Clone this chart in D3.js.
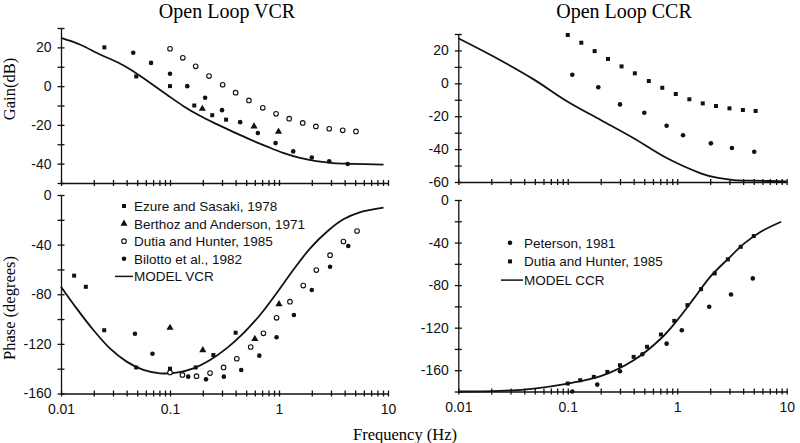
<!DOCTYPE html>
<html>
<head>
<meta charset="utf-8">
<script src="https://cdn.jsdelivr.net/npm/d3@7"></script>
<style>
  body { margin: 0; background: #fff; }
  svg { display: block; }
  .tick text { font-family: Arial, "Liberation Sans", sans-serif; font-size: 14px; fill: #111; }
  .tick line, .domain { stroke: #111; stroke-width: 1.3; }
</style>
</head>
<body>
<svg width="800" height="443"></svg>
<script>
const svg_width = 800;
const svg_height = 443;

// ---- VCR gain (dB) ----
const ezureGainF = [0.025, 0.049, 0.1, 0.167, 0.244, 0.327];
const ezureGain = [20, 5, 0, -10, -15, -17.3];
const berthozGainF = [0.198, 0.59, 0.99];
const berthozGain = [-11.7, -20.8, -23.5];
const dutiaVcrGainF = [0.1, 0.131, 0.172, 0.228, 0.304, 0.4, 0.53, 0.71, 0.94, 1.24, 1.65, 2.18, 2.89, 3.84, 5.08];
const dutiaVcrGain = [19.3, 14.6, 10.2, 5.2, 0.7, -3.4, -7.4, -11.2, -14.3, -16.8, -19, -20.8, -22, -22.8, -23.4];
const bilottoGainF = [0.046, 0.067, 0.1, 0.144, 0.21, 0.3, 0.44, 0.64, 0.93, 1.35, 2.0, 2.89, 4.27];
const bilottoGain = [17.2, 12, 6.4, 0, -6, -12.4, -18.6, -24.2, -29.4, -33.7, -36.8, -38.8, -40.2];
const modelVcrGainF = [0.01, 0.0149, 0.0228, 0.033, 0.046, 0.0655, 0.093, 0.132, 0.188, 0.268, 0.38, 0.54, 0.77, 1.09, 1.56, 2.2, 3.14, 4.5, 9.1];
const modelVcrGain = [24.9, 21.5, 16.3, 12.3, 7.7, 1.7, -4.3, -10.2, -15.3, -19.6, -23.6, -27.5, -31.1, -34.4, -37, -38.7, -39.7, -40.1, -40.5];

// ---- VCR phase (degrees) ----
const ezurePhaseF = [0.0132, 0.0169, 0.0249, 0.049, 0.1, 0.172, 0.25, 0.4];
const ezurePhase = [-65, -74, -109, -139, -140, -139, -129, -111];
const berthozPhaseF = [0.1, 0.2, 0.6, 1.0];
const berthozPhase = [-107, -125, -116, -88];
const dutiaVcrPhaseF = [0.1, 0.13, 0.175, 0.233, 0.31, 0.41, 0.55, 0.72, 0.95, 1.26, 1.67, 2.2, 2.94, 3.9, 5.2];
const dutiaVcrPhase = [-143, -145, -146, -143.5, -139, -132, -122.5, -111.5, -99, -86, -73, -60.5, -48.5, -37.5, -29];
const bilottoPhaseF = [0.0477, 0.069, 0.147, 0.214, 0.312, 0.45, 0.66, 0.95, 1.37, 2.0, 2.94, 4.32];
const bilottoPhase = [-111.8, -128, -146.4, -148.6, -146.4, -141, -129.5, -114.7, -96.7, -76.6, -57.8, -41.1];
const modelVcrPhaseF = [0.01, 0.0139, 0.0198, 0.0281, 0.04, 0.057, 0.081, 0.115, 0.164, 0.233, 0.33, 0.47, 0.67, 0.95, 1.35, 1.93, 2.75, 3.9, 5.5, 9.1];
const modelVcrPhase = [-73.9, -91.4, -108.8, -123.6, -134.3, -141, -143.7, -143.2, -139.7, -133, -123.6, -111.5, -96.7, -79.2, -60.5, -43, -29.6, -19.6, -14, -10.2];

// ---- CCR gain (dB) ----
const dutiaCcrGainF = [0.1, 0.133, 0.176, 0.233, 0.31, 0.41, 0.55, 0.73, 0.97, 1.29, 1.71, 2.26, 3.0, 3.98, 5.2];
const dutiaCcrGain = [29.4, 24.7, 19.6, 14.8, 10.3, 6.1, 1.4, -2.7, -6.5, -9.7, -12.2, -13.8, -15.2, -16.2, -16.8];
const petersonGainF = [0.11, 0.19, 0.3, 0.5, 0.8, 1.13, 2.03, 3.16, 5.05];
const petersonGain = [5.2, -2.4, -12.8, -17.9, -25.8, -31.6, -36.5, -39.3, -41.6];
const modelCcrGainF = [0.01, 0.024, 0.0488, 0.1, 0.2, 0.4, 0.81, 1.64, 2.3, 3.3, 5.1, 10];
const modelCcrGain = [27.4, 14.2, 2.4, -11.2, -22.3, -33.4, -45.6, -54.7, -57.4, -58.8, -59.2, -59.6];

// ---- CCR phase (degrees) ----
const dutiaCcrPhaseF = [0.1, 0.13, 0.173, 0.23, 0.3, 0.4, 0.53, 0.71, 0.94, 1.24, 1.65, 2.2, 2.9, 3.8, 5.0];
const dutiaCcrPhase = [-172.5, -169.4, -166.3, -161.6, -155.3, -147.5, -138, -126.4, -113.6, -98.8, -83.8, -69, -55.8, -44, -33.9];
const petersonPhaseF = [0.11, 0.186, 0.3, 0.48, 0.8, 1.1, 1.96, 3.1, 4.9];
const petersonPhase = [-180, -173.5, -161, -145, -135, -122.4, -100.4, -88.8, -73.7];
const modelCcrPhaseF = [0.01, 0.024, 0.049, 0.1, 0.2, 0.4, 0.71, 1.0, 1.42, 2.0, 2.9, 4.1, 5.8, 8.9];
const modelCcrPhase = [-180, -179.5, -177.2, -172.5, -165.6, -150.6, -130.2, -113, -92.5, -72.2, -55.5, -40.8, -29.8, -20.4];

// tick labels
const freqLabels = [0.01, 0.1, 1, 10];
const vcrGainLabels = [20, 0, -20, -40];
const ccrGainLabels = [20, 0, -20, -40, -60];
const phaseLabels = [0, -40, -80, -120, -160];

const vcrLegend = ["Ezure and Sasaki, 1978", "Berthoz and Anderson, 1971", "Dutia and Hunter, 1985", "Bilotto et al., 1982", "MODEL VCR"];
const ccrLegend = ["Peterson, 1981", "Dutia and Hunter, 1985", "MODEL CCR"];

const svg = d3.select("svg");

function zip(f, v) {
  return f.map((d, i) => [d, v[i]]);
}

// every 1..9 x decade between 0.01 and 10
function logTicks() {
  var t = [];
  for (let e = -2; e <= 0; e++) {
    for (let m = 1; m <= 9; m++) t.push(+(m * Math.pow(10, e)).toPrecision(3));
  }
  t.push(10);
  return t;
}

function drawMarker(g, type, x, y) {
  if (type === "square") {
    g.append("rect").attr("x", x - 2).attr("y", y - 2).attr("width", 4).attr("height", 4).attr("fill", "#111");
  } else if (type === "triangle") {
    g.append("path").attr("d", d3.symbol(d3.symbolTriangle, 22)()).attr("transform", `translate(${x},${y})`).attr("fill", "#111");
  } else if (type === "open") {
    g.append("circle").attr("cx", x).attr("cy", y).attr("r", 2.3).attr("fill", "#fff").attr("stroke", "#111").attr("stroke-width", 1.1);
  } else {
    g.append("circle").attr("cx", x).attr("cy", y).attr("r", 2.3).attr("fill", "#111");
  }
}

function drawPanel(p) {
  var x = d3.scaleLog().domain([0.01, 10]).range(p.xRange);
  var y = d3.scaleLinear().domain(p.yDomain).range(p.yRange);
  var g = svg.append("g");

  var yAxis = d3.axisLeft(y)
    .tickValues(d3.range(p.yDomain[0], p.yDomain[1] + 1, p.yStep))
    .tickFormat(d => (p.yLabels.includes(d) ? d : ""))
    .tickSizeInner(3.5).tickSizeOuter(0).tickPadding(6);
  var ya = g.append("g").attr("transform", `translate(${p.xRange[0]},0)`).call(yAxis);
  ya.selectAll(".tick line").attr("x1", 3.5);

  var xAxis = d3.axisBottom(x)
    .tickValues(logTicks())
    .tickFormat(d => (p.xLabels && freqLabels.includes(d) ? d : ""))
    .tickSizeInner(3).tickSizeOuter(0).tickPadding(8);
  var xa = g.append("g").attr("transform", `translate(0,${p.yRange[0]})`).call(xAxis);
  xa.selectAll(".tick line").attr("y1", -3);

  var line = d3.line().x(d => x(d[0])).y(d => y(d[1])).curve(d3.curveCatmullRom.alpha(0.5));
  g.append("path")
    .attr("d", line(p.model))
    .attr("fill", "none")
    .attr("stroke", "#111")
    .attr("stroke-width", 1.8);

  p.series.forEach(s => {
    s.pts.forEach(d => drawMarker(g, s.type, x(d[0]), y(d[1])));
  });
}

const leftX = [61, 388];
const rightX = [458.3, 786.7];

drawPanel({
  xRange: leftX, yDomain: [-50, 30], yRange: [183, 28], yStep: 10, yLabels: vcrGainLabels, xLabels: false,
  model: zip(modelVcrGainF, modelVcrGain),
  series: [
    { type: "square", pts: zip(ezureGainF, ezureGain) },
    { type: "triangle", pts: zip(berthozGainF, berthozGain) },
    { type: "open", pts: zip(dutiaVcrGainF, dutiaVcrGain) },
    { type: "dot", pts: zip(bilottoGainF, bilottoGain) }
  ]
});

drawPanel({
  xRange: leftX, yDomain: [-160, 0], yRange: [393.5, 195], yStep: 20, yLabels: phaseLabels, xLabels: true,
  model: zip(modelVcrPhaseF, modelVcrPhase),
  series: [
    { type: "square", pts: zip(ezurePhaseF, ezurePhase) },
    { type: "triangle", pts: zip(berthozPhaseF, berthozPhase) },
    { type: "open", pts: zip(dutiaVcrPhaseF, dutiaVcrPhase) },
    { type: "dot", pts: zip(bilottoPhaseF, bilottoPhase) }
  ]
});

drawPanel({
  xRange: rightX, yDomain: [-60, 30], yRange: [182, 34], yStep: 10, yLabels: ccrGainLabels, xLabels: false,
  model: zip(modelCcrGainF, modelCcrGain),
  series: [
    { type: "square", pts: zip(dutiaCcrGainF, dutiaCcrGain) },
    { type: "dot", pts: zip(petersonGainF, petersonGain) }
  ]
});

drawPanel({
  xRange: rightX, yDomain: [-180, 0], yRange: [391.5, 200], yStep: 20, yLabels: phaseLabels, xLabels: true,
  model: zip(modelCcrPhaseF, modelCcrPhase),
  series: [
    { type: "square", pts: zip(dutiaCcrPhaseF, dutiaCcrPhase) },
    { type: "dot", pts: zip(petersonPhaseF, petersonPhase) }
  ]
});

// legends
function drawLegend(labels, types, mx, tx, y0, dy) {
  var g = svg.append("g");
  labels.forEach((label, i) => {
    var yy = y0 + i * dy;
    if (types[i] === "line") {
      g.append("line").attr("x1", mx - 9).attr("x2", tx).attr("y1", yy).attr("y2", yy)
        .attr("stroke", "#111").attr("stroke-width", 1.5);
    } else {
      drawMarker(g, types[i], mx, yy);
    }
    g.append("text").attr("x", tx + 1).attr("y", yy + 5)
      .attr("font-family", "Arial, 'Liberation Sans', sans-serif").attr("font-size", 13.5).attr("fill", "#111")
      .text(label);
  });
}
drawLegend(vcrLegend, ["square", "triangle", "open", "dot", "line"], 124, 133, 206, 17.6);
drawLegend(ccrLegend, ["dot", "square", "line"], 510, 523, 242.7, 18.7);

// titles and axis labels
const serif = "'Liberation Serif', 'Times New Roman', serif";
svg.append("text").attr("x", 227).attr("y", 18).attr("text-anchor", "middle")
  .attr("font-family", serif).attr("font-size", 20).text("Open Loop VCR");
svg.append("text").attr("x", 624).attr("y", 18).attr("text-anchor", "middle")
  .attr("font-family", serif).attr("font-size", 20).text("Open Loop CCR");
svg.append("text").attr("x", 405).attr("y", 440).attr("text-anchor", "middle")
  .attr("font-family", serif).attr("font-size", 16.5).text("Frequency (Hz)");
svg.append("text").attr("transform", "translate(15,89) rotate(-90)").attr("text-anchor", "middle")
  .attr("font-family", serif).attr("font-size", 16.5).text("Gain(dB)");
svg.append("text").attr("transform", "translate(15,308) rotate(-90)").attr("text-anchor", "middle")
  .attr("font-family", serif).attr("font-size", 16.5).text("Phase (degrees)");
</script>
</body>
</html>
